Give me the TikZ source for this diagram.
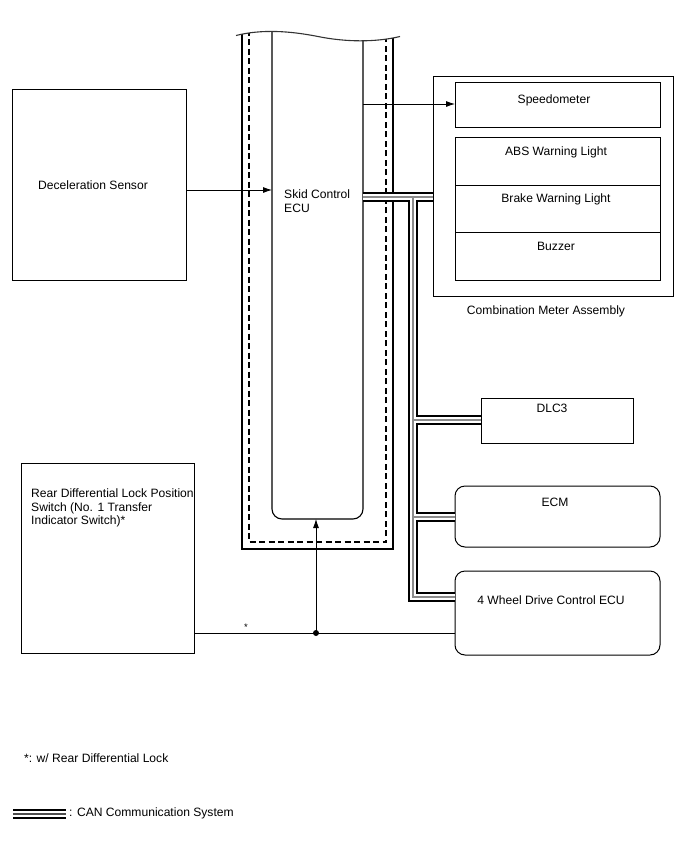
\documentclass[tikz,border=0pt]{standalone}
\usepackage{fontspec}
\setmainfont{Liberation Sans}
\usetikzlibrary{arrows.meta}
\begin{document}
\begin{tikzpicture}[x=1pt,y=-1pt,
  box/.style={draw, line width=1pt, inner sep=0pt, outer sep=0pt, anchor=north west},
  rbox/.style={box, rounded corners=10pt},
  lbl/.style={font=\fontsize{12.1}{13.8}\selectfont, inner sep=0pt},
  conn/.style={line width=0.8pt},
  arr/.style={conn, -{Latex[length=9pt,width=6pt]}},
  wall/.style={line width=1.1pt},
  dwall/.style={line width=1.3pt, dash pattern=on 6pt off 3.5pt}]
\useasboundingbox (0,0) rectangle (688,852);

% ---------- boxes ----------
\node[box, minimum width=174pt, minimum height=191pt] (dec) at (12,89) {};
\node[lbl, anchor=west] (dect) at (38,185) {Deceleration Sensor};

\node[box, minimum width=240pt, minimum height=220pt] (meter) at (433,76) {};
\node[lbl] (metert) at (546,311) {Combination Meter Assembly};
\node[box, minimum width=205pt, minimum height=45pt] (speedo) at (455,82) {};
\node[lbl] (speedot) at (554,100) {Speedometer};
\node[box, minimum width=205pt, minimum height=48pt] (abs) at (455,137) {};
\node[lbl] (abst) at (556,152) {ABS Warning Light};
\node[box, minimum width=205pt, minimum height=47pt] (brake) at (455,185) {};
\node[lbl] (braket) at (556,199) {Brake Warning Light};
\node[box, minimum width=205pt, minimum height=48pt] (buzz) at (455,232) {};
\node[lbl] (buzzt) at (556,246) {Buzzer};

\node[box, minimum width=152pt, minimum height=45pt] (dlc) at (481,398) {};
\node[lbl] (dlct) at (552,408) {DLC3};
\node[rbox, minimum width=205pt, minimum height=61pt] (ecm) at (455,486) {};
\node[lbl] (ecmt) at (555,502) {ECM};
\node[rbox, minimum width=205pt, minimum height=84pt] (fwd) at (455,571) {};
\node[lbl] (fwdt) at (551,600) {4 Wheel Drive Control ECU};

\node[box, minimum width=173pt, minimum height=190pt] (rdl) at (21,463) {};
\node[lbl, anchor=west, align=left] (rdlt) at (31,508)
  {Rear Differential Lock Position\\Switch (No. 1 Transfer\\Indicator Switch)*};

% ---------- skid control ECU column ----------
\begin{scope}
  \clip (236,35.5) .. controls (262,29) and (290,31) .. (318,36.5)
        .. controls (345,42) and (375,42.5) .. (400,36.5)
        -- (420,36.5) -- (420,600) -- (220,600) -- (220,35.5) -- cycle;
  \draw[wall] (242,20) -- (242,549) -- (393,549) -- (393,20);
  \draw[dwall] (249,20) -- (249,542) -- (386,542) -- (386,20);
  \draw[wall, rounded corners=10pt] (272,20) -- (272,519) -- (363,519) -- (363,20);
\end{scope}
\draw[line width=1.1pt, black!80] (236,35.5) .. controls (262,29) and (290,31) .. (318,36.5)
      .. controls (345,42) and (375,42.5) .. (400,36.5);
\node[lbl, anchor=west, align=left] (ecu) at (284,201.5) {Skid Control\\ECU};

\coordinate (ecuIn) at (272,190);
\coordinate (ecuOut) at (363,104);
\coordinate (ecuCan) at (363,197);
\coordinate (ecuBot) at (316,519);
\coordinate (jn) at (413,197);
\coordinate (dot) at (316,633);

% ---------- connectors ----------
\draw[arr] (dec.east |- ecuIn) -- (ecuIn);
\draw[arr] (ecuOut) -- (speedo.west |- ecuOut);
\draw[conn] (rdl.east |- dot) -- (fwd.west |- dot);
\draw[arr] (dot) -- (ecuBot);
\fill (dot) circle (3pt);
\node[lbl, font=\fontsize{9.5}{10}\selectfont] (star) at (246,627) {*};

% ---------- CAN bus ----------
\foreach \w/\c in {10/black, 5.2/white, 1.2/black!45}{
  \draw[line width=\w pt, \c] (ecuCan) -- (meter.west |- ecuCan)
     (jn) -- (413,597) -- (fwd.west |- 0,597)
     (413,420) -- (dlc.west |- 0,420)
     (413,517) -- (ecm.west |- 0,517);
}

% ---------- footnotes ----------
\node[lbl, anchor=west] (foot) at (24,758) {*: w/ Rear Differential Lock};
\coordinate (lg1) at (13,814);
\coordinate (lg2) at (66,814);
\foreach \w/\c in {10/black, 5.2/white, 1.2/black!70}{
  \draw[line width=\w pt, \c] (lg1) -- (lg2);
}
\node[lbl, anchor=west] (legt) at (69,813) {: CAN Communication System};
\end{tikzpicture}
\end{document}
